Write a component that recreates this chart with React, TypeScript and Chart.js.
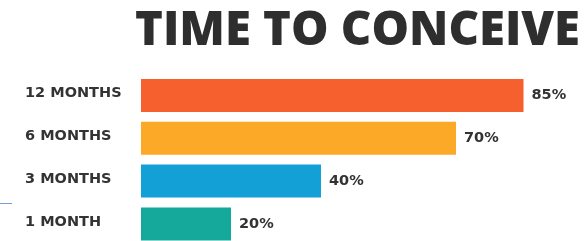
import React, { useEffect, useRef } from "react";
import { Chart, registerables } from "chart.js";

Chart.register(...registerables);

const TITLE = "TIME TO CONCEIVE";
const categories = ["12 MONTHS", "6 MONTHS", "3 MONTHS", "1 MONTH"];
const values = [85, 70, 40, 20];
const valueLabels = ["85%", "70%", "40%", "20%"];
const barColors = ["#F6602E", "#FBA927", "#12A0D6", "#15A99B"];

const W = 587;
const H = 257;

export default function App() {
  const ref = useRef<HTMLCanvasElement | null>(null);

  useEffect(() => {
    if (!ref.current) return;

    const titlePlugin = {
      id: "titleDraw",
      afterDraw(chart: any) {
        const ctx = chart.ctx;
        ctx.save();
        ctx.font = '800 48px "Open Sans"';
        ctx.fillStyle = "#2E2E2E";
        ctx.textBaseline = "alphabetic";
        ctx.textAlign = "left";
        const w = ctx.measureText(TITLE).width;
        const sx = 445 / w;
        ctx.translate(135, 44.5);
        ctx.scale(sx, 1);
        ctx.fillText(TITLE, 0, 0);
        ctx.restore();

        // small stray blue stroke at left edge
        ctx.save();
        ctx.strokeStyle = "#7B9BD6";
        ctx.lineWidth = 1;
        ctx.beginPath();
        ctx.moveTo(0, 203.5);
        ctx.lineTo(12, 203.5);
        ctx.stroke();
        ctx.restore();
      },
    };

    const valuePlugin = {
      id: "valueDraw",
      afterDatasetsDraw(chart: any) {
        const ctx = chart.ctx;
        const meta = chart.getDatasetMeta(0);
        ctx.save();
        ctx.font = 'bold 14.5px "DejaVu Sans"';
        ctx.fillStyle = "#333333";
        ctx.textAlign = "left";
        ctx.textBaseline = "middle";
        meta.data.forEach((bar: any, i: number) => {
          ctx.fillText(valueLabels[i], bar.x + 8, bar.y);
        });
        ctx.restore();
      },
    };

    const chart = new Chart(ref.current, {
      type: "bar",
      data: {
        labels: categories,
        datasets: [
          {
            data: values,
            backgroundColor: barColors,
            borderWidth: 0,
            barPercentage: 0.77,
            categoryPercentage: 1,
          },
        ],
      },
      options: {
        indexAxis: "y",
        responsive: false,
        animation: false,
        events: [],
        layout: { padding: { top: 74, bottom: 1, left: 25, right: 41 } },
        plugins: {
          legend: { display: false },
          title: { display: false },
          tooltip: { enabled: false },
        },
        scales: {
          x: {
            display: false,
            min: 0,
            max: 90,
          },
          y: {
            grid: { display: false },
            border: { display: false },
            afterFit: (scale: any) => {
              scale.width = 116;
            },
            ticks: {
              crossAlign: "far",
              labelOffset: -2,
              color: "#333333",
              font: { family: '"DejaVu Sans"', weight: "bold", size: 14.5 },
            },
          },
        },
      },
      plugins: [titlePlugin, valuePlugin],
    } as any);

    return () => chart.destroy();
  }, []);

  return (
    <div
      style={{
        position: "fixed",
        left: 0,
        top: 0,
        width: W,
        height: H,
        background: "#FFFFFF",
      }}
    >
      <canvas ref={ref} width={W} height={H} style={{ display: "block" }} />
    </div>
  );
}
